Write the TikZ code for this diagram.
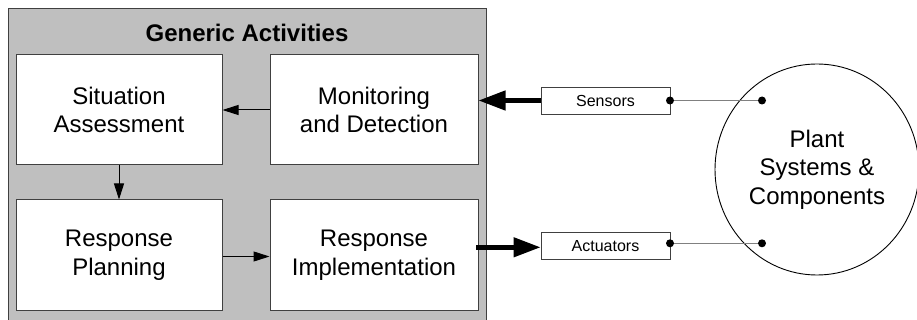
\documentclass[tikz,border=0pt]{standalone}
\usepackage{fontspec}
\setmainfont{Liberation Sans}
\usetikzlibrary{arrows.meta,shapes.geometric}

\tikzset{
  activity/.style={draw=black!75, line width=1pt, fill=white,
    minimum height=110pt, align=center,
    font=\fontsize{24}{28.5}\selectfont, inner sep=0pt},
  interface/.style={draw=black!75, line width=0.9pt, fill=white,
    minimum width=129pt, minimum height=27pt, inner sep=0pt,
    font=\fontsize{16}{19}\selectfont},
  flow/.style={line width=1pt, -{Triangle[length=16pt,width=10pt]}},
  bigflow/.style={line width=4.5pt, -{Triangle[length=27pt,width=19pt]}},
  wire/.style={draw=black!50, line width=1.4pt},
  pin/.style={circle, fill=black, minimum size=8pt, inner sep=0pt},
}

\begin{document}
\begin{tikzpicture}[x=1pt,y=-1pt]
\useasboundingbox (0,0) rectangle (917,320);
\clip (0,0) rectangle (917,320);

% grey frame holding the generic activities
\filldraw[fill=black!25, draw=black!75, line width=1pt] (8,9) rectangle (486,340);
\node[font=\bfseries\fontsize{24}{28}\selectfont] (title) at (247,33) {Generic Activities};

% activity boxes
\node[activity, minimum width=206pt] (sa) at (119,110) {Situation\\Assessment};
\node[activity, minimum width=208pt] (md) at (374,110) {Monitoring\\and Detection};
\node[activity, minimum width=206pt] (rp) at (119,255) {Response\\Planning};
\node[activity, minimum width=208pt] (ri) at (374,255) {Response\\Implementation};

% flow between activities
\draw[flow] (md.west) -- (sa.east);
\draw[flow] (sa.south) -- (rp.north);
\draw[flow] (rp.east |- 0,256.5) coordinate (rpo) -- (ri.west |- rpo);

% sensor and actuator interfaces
\node[interface] (sens) at (605.5,100.5) {Sensors};
\node[interface] (act) at (605.5,245.8) {Actuators};

\draw[bigflow] (sens.west) -- (md.east |- sens.west);
\coordinate (ao) at (476,247.3);
\draw[bigflow] (ao) -- (act.west |- ao);

% plant
\node[ellipse, draw=black, line width=0.9pt, minimum width=204pt, minimum height=211pt,
  align=center, font=\fontsize{24}{28.5}\selectfont, inner sep=0pt]
  (plant) at (817,169.5) {Plant\\Systems \&\\Components};

% wiring from the interfaces into the plant
\node[pin] (sp1) at (670,100.5) {};
\node[pin] (sp2) at (762,100.5) {};
\node[pin] (ap1) at (670,243.3) {};
\node[pin] (ap2) at (762,243.3) {};
\draw[wire] (sp1) -- (sp2);
\draw[wire] (ap1) -- (ap2);
\end{tikzpicture}
\end{document}
